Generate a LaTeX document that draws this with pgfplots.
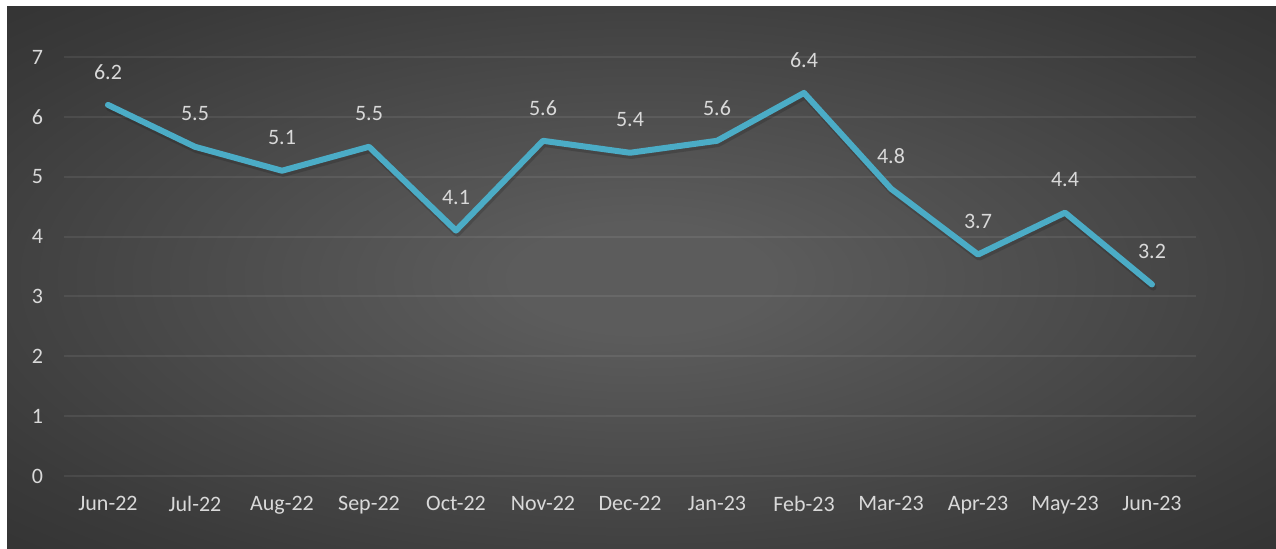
\documentclass[border=0pt]{standalone}
\usepackage{fontspec}
\setmainfont{Carlito}
\usepackage{pgfplots}
\pgfplotsset{compat=1.18}
\definecolor{bgin}{HTML}{5C5C5C}
\definecolor{bgmid}{HTML}{3A3A3A}
\definecolor{bgout}{HTML}{272727}
\definecolor{linec}{HTML}{4BACC6}
\definecolor{txt}{HTML}{D9D9D9}
\pgfdeclareradialshading{bgshade}{\pgfpoint{0bp}{0bp}}{color(0bp)=(bgin); color(5bp)=(bgin); color(30bp)=(bgmid); color(48bp)=(bgout); color(72bp)=(bgout)}
\begin{document}
\begin{tikzpicture}
\fill[white] (-32.25pt,-36.5pt) rectangle (605.75pt,238pt);
\shade[shading=bgshade] (-28.75pt,-36.5pt) rectangle (605.75pt,234.5pt);
\begin{axis}[
  at={(0,0)}, anchor=south west,
  scale only axis, width=565.5pt, height=209.5pt,
  xmin=-0.5, xmax=12.5, ymin=0, ymax=7,
  xtick={0,...,12},
  xticklabels={Jun-22,Jul-22,Aug-22,Sep-22,Oct-22,Nov-22,Dec-22,Jan-23,Feb-23,Mar-23,Apr-23,May-23,Jun-23},
  ytick={0,...,7},
  ymajorgrids,
  major grid style={white, opacity=0.075, line width=1pt},
  axis line style={draw=none},
  tick style={draw=none},
  /pgf/number format/assume math mode=true,
  tick label style={font=\fontsize{11}{13}\selectfont, text=txt, inner sep=0pt},
  yticklabel style={anchor=east, xshift=-10.5pt},
  xticklabel style={anchor=north, yshift=-10pt},
  clip=false,
]
\addplot[black, opacity=0.15, line width=3.4pt, line join=round, line cap=round, xshift=0.6pt, yshift=-1.4pt, forget plot] table[x=x,y=y] {
x y
0 6.2
1 5.5
2 5.1
3 5.5
4 4.1
5 5.6
6 5.4
7 5.6
8 6.4
9 4.8
10 3.7
11 4.4
12 3.2
};
\addplot[linec, line width=3pt, line join=round, line cap=round,
  nodes near coords={\pgfmathprintnumber[fixed,precision=1,fixed zerofill]{\pgfplotspointmeta}},
  every node near coord/.append style={anchor=center, yshift=16.5pt, font=\fontsize{11}{13}\selectfont, text=txt}
] table[x=x,y=y] {
x y
0 6.2
1 5.5
2 5.1
3 5.5
4 4.1
5 5.6
6 5.4
7 5.6
8 6.4
9 4.8
10 3.7
11 4.4
12 3.2
};
\end{axis}
\end{tikzpicture}
\end{document}
